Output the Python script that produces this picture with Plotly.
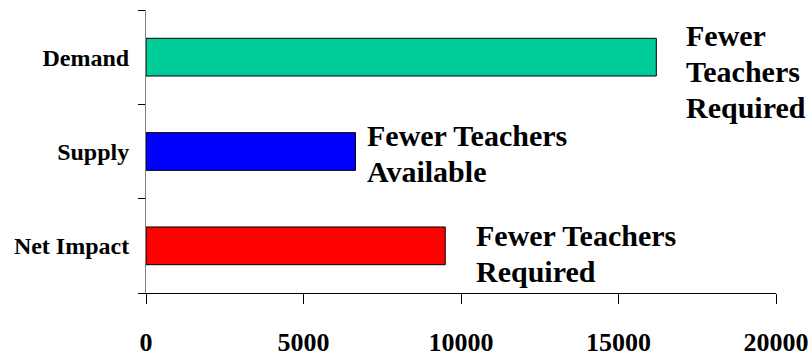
import plotly.graph_objects as go

# Teacher demand/supply figures (number of teachers)
categories = ["Demand", "Supply", "Net Impact"]
values = [16200, 6650, 9500]
bar_colors = ["#00CC99", "#0000FF", "#FF0000"]
notes = [
    ["Fewer", "Teachers", "Required"],
    ["Fewer Teachers", "Available"],
    ["Fewer Teachers", "Required"],
]
x_ticks = [0, 5000, 10000, 15000, 20000]

# note placement: horizontal gap after the bar end, vertical drift of the block (px)
note_dx = [28, 10, 29]
note_dy = [-14.5, -2, -8]
line_gap = 36

fig = go.Figure(
    go.Bar(
        x=values,
        y=categories,
        orientation="h",
        marker=dict(color=bar_colors, line=dict(color="#000000", width=1)),
        width=0.4,
        hoverinfo="x+y",
    )
)

note_font = dict(family="Liberation Serif", size=30, color="#000000", weight="bold")
for cat, val, lines, dx, dy in zip(categories, values, notes, note_dx, note_dy):
    n = len(lines)
    for i, line in enumerate(lines):
        fig.add_annotation(
            x=val, y=cat, text=line, showarrow=False,
            xanchor="left", yanchor="middle", align="left",
            xshift=dx, yshift=dy + ((n - 1) / 2 - i) * line_gap,
            font=note_font,
        )

fig.update_layout(
    width=811, height=358,
    margin=dict(l=146, r=35, t=10, b=65),
    paper_bgcolor="white", plot_bgcolor="white",
    showlegend=False,
    font=dict(family="Liberation Serif", color="#000000"),
)

fig.update_xaxes(
    range=[0, 20000], tickvals=x_ticks, ticktext=[str(v) for v in x_ticks],
    showgrid=False, zeroline=False, automargin=False,
    showline=True, linecolor="#000000", linewidth=1,
    ticks="outside", ticklen=10, tickcolor="#000000",
    tickfont=dict(family="Liberation Serif", size=26, color="#000000", weight="bold"),
    ticklabelstandoff=16,
)
fig.update_yaxes(
    categoryorder="array", categoryarray=categories[::-1],
    showgrid=False, zeroline=False, automargin=False,
    showline=True, linecolor="#808080", linewidth=1,
    ticks="outside", ticklen=7, tickcolor="#000000", tickson="boundaries",
    tickfont=dict(family="Liberation Serif", size=24, color="#000000", weight="bold"),
    ticklabelstandoff=11,
)

fig.write_html("out.html")
